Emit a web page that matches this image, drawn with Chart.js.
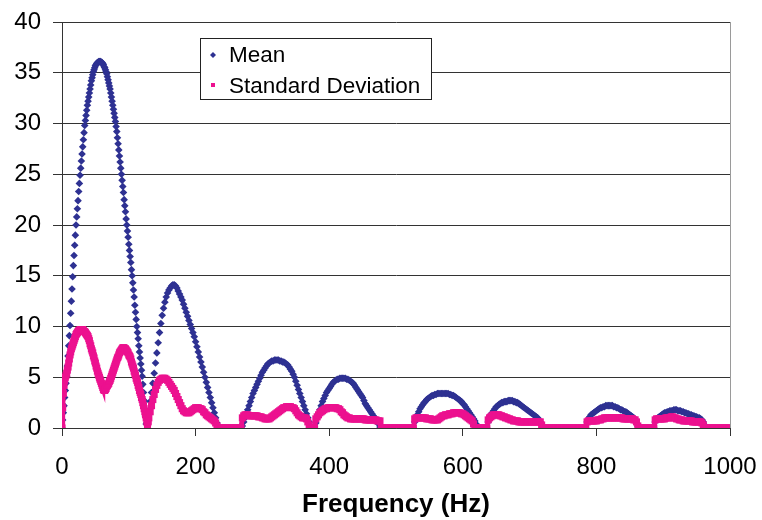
<!DOCTYPE html>
<html>
<head>
<meta charset="utf-8">
<script src="https://cdn.jsdelivr.net/npm/chart.js@4/dist/chart.umd.min.js"></script>
<style>
  html, body { margin: 0; padding: 0; background: #ffffff; }
  #wrap { width: 762px; height: 520px; }
</style>
</head>
<body>
<div id="wrap"><canvas id="c" width="762" height="520"></canvas></div>
<script>
// Frequency bins (Hz): 1 Hz steps up to 130 Hz, 2 Hz steps after that
const freqHz = [
0,1,2,3,4,5,6,7,8,9,
10,11,12,13,14,15,16,17,18,19,
20,21,22,23,24,25,26,27,28,29,
30,31,32,33,34,35,36,37,38,39,
40,41,42,43,44,45,46,47,48,49,
50,51,52,53,54,55,56,57,58,59,
60,61,62,63,64,65,66,67,68,69,
70,71,72,73,74,75,76,77,78,79,
80,81,82,83,84,85,86,87,88,89,
90,91,92,93,94,95,96,97,98,99,
100,101,102,103,104,105,106,107,108,109,
110,111,112,113,114,115,116,117,118,119,
120,121,122,123,124,125,126,127,128,129,
130,
132,134,136,138,140,142,144,146,148,150,
152,154,156,158,160,162,164,166,168,170,
172,174,176,178,180,182,184,186,188,190,
192,194,196,198,200,202,204,206,208,210,
212,214,216,218,220,222,224,226,228,230,
232,234,236,238,240,242,244,246,248,250,
252,254,256,258,260,262,264,266,268,270,
272,274,276,278,280,282,284,286,288,290,
292,294,296,298,300,302,304,306,308,310,
312,314,316,318,320,322,324,326,328,330,
332,334,336,338,340,342,344,346,348,350,
352,354,356,358,360,362,364,366,368,370,
372,374,376,378,380,382,384,386,388,390,
392,394,396,398,400,402,404,406,408,410,
412,414,416,418,420,422,424,426,428,430,
432,434,436,438,440,442,444,446,448,450,
452,454,456,458,460,462,464,466,468,470,
472,474,476,478,480,482,484,486,488,490,
492,494,496,498,500,502,504,506,508,510,
512,514,516,518,520,522,524,526,528,530,
532,534,536,538,540,542,544,546,548,550,
552,554,556,558,560,562,564,566,568,570,
572,574,576,578,580,582,584,586,588,590,
592,594,596,598,600,602,604,606,608,610,
612,614,616,618,620,622,624,626,628,630,
632,634,636,638,640,642,644,646,648,650,
652,654,656,658,660,662,664,666,668,670,
672,674,676,678,680,682,684,686,688,690,
692,694,696,698,700,702,704,706,708,710,
712,714,716,718,720,722,724,726,728,730,
732,734,736,738,740,742,744,746,748,750,
752,754,756,758,760,762,764,766,768,770,
772,774,776,778,780,782,784,786,788,790,
792,794,796,798,800,802,804,806,808,810,
812,814,816,818,820,822,824,826,828,830,
832,834,836,838,840,842,844,846,848,850,
852,854,856,858,860,862,864,866,868,870,
872,874,876,878,880,882,884,886,888,890,
892,894,896,898,900,902,904,906,908,910,
912,914,916,918,920,922,924,926,928,930,
932,934,936,938,940,942,944,946,948,950,
952,954,956,958,960,962,964,966,968,970,
972,974,976,978,980,982,984,986,988,990,
992,994,996,998,1000
];

// Mean spectrum amplitude per bin
const meanAmp = [
0,0.8,1.5,2.2,3.0,3.7,4.4,5.1,6.1,7.1,
8.1,9.1,10.1,11.3,12.5,13.7,14.9,16.0,17.0,18.0,
19.0,20.0,20.8,21.6,22.4,23.3,24.1,24.9,25.6,26.3,
27.0,27.7,28.4,29.1,29.8,30.3,30.8,31.3,31.8,32.2,
32.6,33.0,33.4,33.8,34.2,34.5,34.8,35.1,35.3,35.5,
35.7,35.8,35.9,36.0,36.0,36.1,36.1,36.1,36.1,36.0,
36.0,35.9,35.8,35.6,35.5,35.3,35.1,34.9,34.6,34.3,
34.0,33.7,33.4,33.0,32.6,32.2,31.8,31.4,31.0,30.6,
30.2,29.7,29.2,28.6,28.0,27.4,26.8,26.2,25.6,25.0,
24.4,23.8,23.2,22.5,21.9,21.3,20.6,20.0,19.4,18.8,
18.1,17.5,16.9,16.3,15.6,15.0,14.3,13.6,12.9,12.1,
11.4,10.7,10.0,9.4,8.8,8.1,7.5,6.9,6.3,5.7,
5.1,4.3,3.5,2.7,1.9,1.1,0.4,0.5,0.9,1.3,
1.7,
2.6,3.5,4.4,5.4,6.4,7.4,8.4,9.4,10.3,11.1,
11.8,12.4,12.9,13.3,13.6,13.8,14.0,14.1,14.1,14.0,
13.8,13.5,13.2,12.9,12.6,12.2,11.8,11.4,11.0,10.6,
10.2,9.8,9.4,9.0,8.5,8.0,7.5,7.0,6.5,6.0,
5.5,5.0,4.5,4.0,3.5,3.0,2.5,2.0,1.5,1.0,
0.5,0.1,0,0,0,0,0,0,0,0,
0,0,0,0,0,0,0,0,0,0.2,
0.6,1.0,1.4,1.8,2.2,2.6,3.0,3.4,3.7,4.0,
4.3,4.6,4.9,5.2,5.5,5.7,5.9,6.1,6.3,6.4,
6.5,6.6,6.6,6.7,6.7,6.7,6.7,6.6,6.6,6.5,
6.5,6.4,6.3,6.2,6.0,5.8,5.6,5.3,5.0,4.6,
4.2,3.8,3.4,3.0,2.6,2.2,1.8,1.4,1.0,0.6,
0.2,0,0,0.1,0.5,1.0,1.4,1.8,2.2,2.6,
2.9,3.2,3.5,3.7,3.9,4.1,4.3,4.5,4.6,4.7,
4.8,4.8,4.9,4.9,4.9,4.9,4.9,4.8,4.8,4.7,
4.6,4.5,4.4,4.2,4.0,3.8,3.6,3.4,3.2,3.0,
2.7,2.4,2.2,2.0,1.8,1.6,1.4,1.2,1.0,0.8,
0.6,0.4,0.1,0,0,0,0,0,0,0,
0,0,0,0,0,0,0,0,0,0,
0,0,0,0,0,0,0,0,0.6,1.0,
1.3,1.6,1.9,2.1,2.3,2.5,2.6,2.8,2.9,3.0,
3.1,3.2,3.2,3.3,3.3,3.4,3.4,3.4,3.4,3.4,
3.4,3.4,3.4,3.4,3.3,3.3,3.2,3.2,3.1,3.0,
2.9,2.8,2.7,2.6,2.4,2.3,2.1,1.9,1.7,1.5,
1.3,1.1,0.9,0.7,0.4,0.1,0,0,0,0,
0,0,0,0.6,1.0,1.3,1.5,1.7,1.9,2.1,
2.2,2.3,2.4,2.5,2.5,2.6,2.6,2.6,2.7,2.7,
2.7,2.7,2.6,2.6,2.5,2.5,2.4,2.3,2.2,2.1,
2.0,1.9,1.8,1.7,1.6,1.5,1.4,1.3,1.2,1.1,
1.0,0.8,0.6,0.3,0.1,0,0,0,0,0,
0,0,0,0,0,0,0,0,0,0,
0,0,0,0,0,0,0,0,0,0,
0,0,0,0,0,0,0,0.6,0.9,1.1,
1.3,1.4,1.5,1.6,1.7,1.8,1.9,2.0,2.0,2.1,
2.1,2.2,2.2,2.2,2.2,2.2,2.2,2.1,2.1,2.0,
2.0,1.9,1.8,1.8,1.7,1.6,1.6,1.5,1.4,1.3,
1.2,1.1,1.0,0.8,0.5,0.2,0,0,0,0,
0,0,0,0,0,0,0,0,0.6,0.9,
1.0,1.1,1.2,1.3,1.4,1.5,1.5,1.6,1.6,1.7,
1.7,1.7,1.8,1.8,1.8,1.7,1.7,1.7,1.6,1.6,
1.5,1.5,1.4,1.4,1.3,1.3,1.2,1.2,1.1,1.1,
1.0,1.0,0.9,0.8,0.6,0.3,0,0,0,0,
0,0,0,0,0,0,0,0,0,0,
0,0,0,0,0
];

// Standard deviation per bin
const stdDev = [
0,2.0,3.4,4.2,4.7,5.0,5.2,5.4,5.7,6.0,
6.4,6.8,7.2,7.5,7.8,8.0,8.2,8.4,8.6,8.8,
9.0,9.2,9.3,9.4,9.5,9.6,9.6,9.7,9.7,9.7,
9.7,9.7,9.6,9.5,9.5,9.4,9.3,9.2,9.1,9.0,
8.8,8.6,8.3,8.1,7.8,7.6,7.4,7.1,6.9,6.6,
6.4,6.1,5.9,5.6,5.4,5.2,5.0,4.8,4.6,4.4,
4.2,4.0,3.8,3.7,3.7,3.8,3.9,4.1,4.2,4.3,
4.4,4.6,4.7,4.9,5.1,5.3,5.5,5.7,5.9,6.1,
6.3,6.5,6.7,6.9,7.0,7.2,7.4,7.5,7.6,7.7,
7.8,7.9,7.9,7.9,7.8,7.8,7.7,7.6,7.5,7.4,
7.2,7.1,7.0,6.8,6.5,6.3,6.1,5.9,5.6,5.4,
5.2,4.9,4.7,4.5,4.2,4.0,3.7,3.5,3.3,3.0,
2.8,2.5,2.2,1.9,1.6,1.3,1.0,0.6,0.3,0.6,
1.0,
1.6,2.2,2.8,3.3,3.8,4.2,4.5,4.7,4.8,4.9,
4.9,4.9,4.8,4.7,4.5,4.3,4.1,3.9,3.7,3.4,
3.1,2.8,2.5,2.2,1.9,1.7,1.6,1.5,1.5,1.5,
1.6,1.7,1.8,1.9,2.0,2.0,2.0,1.9,1.9,1.8,
1.6,1.5,1.3,1.2,1.1,1.0,0.9,0.8,0.7,0.5,
0.2,0,0,0,0,0,0,0,0,0,
0,0,0,0,0,0,0,0,0,1.0,
1.2,1.3,1.3,1.3,1.2,1.2,1.2,1.2,1.2,1.2,
1.2,1.1,1.1,1.1,1.0,1.0,0.9,0.9,0.9,0.9,
1.0,1.1,1.2,1.3,1.4,1.5,1.6,1.7,1.8,1.9,
2.0,2.0,2.1,2.1,2.1,2.1,2.0,2.0,1.9,1.7,
1.5,1.3,1.2,1.1,1.0,1.0,1.0,0.9,0.6,0.3,
0,0,0,0,0.9,1.1,1.3,1.5,1.6,1.7,
1.8,1.9,1.9,2.0,2.0,2.0,2.0,2.0,2.0,2.0,
1.9,1.9,1.8,1.6,1.5,1.3,1.2,1.1,1.0,1.0,
0.9,0.9,0.9,0.9,0.9,0.9,0.9,0.9,0.9,0.9,
0.9,0.8,0.8,0.8,0.8,0.8,0.8,0.8,0.8,0.8,
0.7,0.7,0.7,0,0,0,0,0,0,0,
0,0,0,0,0,0,0,0,0,0,
0,0,0,0,0,0,0,0,0.9,1.0,
1.0,1.0,1.0,1.0,1.0,1.0,1.0,0.9,0.9,0.9,
0.9,0.8,0.8,0.8,0.8,0.8,0.9,1.0,1.1,1.2,
1.2,1.3,1.3,1.3,1.4,1.4,1.4,1.5,1.5,1.5,
1.5,1.5,1.5,1.4,1.4,1.3,1.2,1.1,1.0,0.9,
0.8,0.7,0.4,0,0,0,0,0,0,0,
0,0,0,0.8,1.0,1.1,1.2,1.3,1.3,1.3,
1.3,1.3,1.2,1.2,1.1,1.1,1.0,1.0,0.9,0.9,
0.8,0.8,0.7,0.7,0.7,0.7,0.6,0.6,0.6,0.6,
0.6,0.6,0.6,0.6,0.6,0.6,0.6,0.6,0.6,0.6,
0.6,0.6,0.6,0.3,0,0,0,0,0,0,
0,0,0,0,0,0,0,0,0,0,
0,0,0,0,0,0,0,0,0,0,
0,0,0,0,0,0,0,0.6,0.7,0.7,
0.7,0.7,0.7,0.7,0.7,0.8,0.8,0.8,0.9,0.9,
1.0,1.0,1.0,1.0,1.0,1.0,1.0,1.0,1.0,1.0,
1.0,1.0,1.0,1.0,0.9,0.9,0.9,0.9,0.9,0.9,
0.9,0.9,0.8,0.8,0.6,0.2,0,0,0,0,
0,0,0,0,0,0,0,0,0.8,0.9,
0.9,0.9,0.9,0.9,0.9,0.9,1.0,1.0,1.0,1.0,
1.1,1.1,1.0,1.0,0.9,0.9,0.8,0.8,0.8,0.7,
0.7,0.7,0.7,0.7,0.7,0.7,0.6,0.6,0.6,0.6,
0.6,0.6,0.6,0.5,0.3,0,0,0,0,0,
0,0,0,0,0,0,0,0,0,0,
0,0,0,0,0
];

const seriesNames = ['Mean', 'Standard Deviation'];
const xTickValues = [0, 200, 400, 600, 800, 1000];
const yTickValues = [0, 5, 10, 15, 20, 25, 30, 35, 40];
const xTitle = 'Frequency (Hz)';

const MEAN_COLOR = '#2e3192';
const STD_COLOR = '#ec118f';
const FONT = '"Liberation Sans", Arial, sans-serif';

const toPoints = vals => freqHz.map((f, i) => ({ x: f, y: vals[i] }));

// Boxed legend inside the plot and a light frame line on the right edge
const framePlugin = {
  id: 'frame',
  afterDatasetsDraw(chart) {
    const { ctx, chartArea } = chart;
    ctx.save();
    ctx.strokeStyle = '#9a9a9a';
    ctx.lineWidth = 1;
    ctx.beginPath();
    ctx.moveTo(Math.round(chartArea.right) + 0.5, chartArea.top);
    ctx.lineTo(Math.round(chartArea.right) + 0.5, chartArea.bottom);
    ctx.stroke();
    ctx.restore();
  },
  afterDraw(chart) {
    const { ctx } = chart;
    const bx = 200.5, by = 38.5, bw = 231, bh = 61;
    ctx.save();
    ctx.fillStyle = '#ffffff';
    ctx.fillRect(bx, by, bw, bh);
    ctx.strokeStyle = '#222222';
    ctx.lineWidth = 1;
    ctx.strokeRect(bx, by, bw, bh);

    // markers
    ctx.fillStyle = MEAN_COLOR;
    ctx.beginPath();
    ctx.moveTo(213, 52); ctx.lineTo(216, 55); ctx.lineTo(213, 58); ctx.lineTo(210, 55);
    ctx.closePath();
    ctx.fill();
    ctx.fillStyle = STD_COLOR;
    ctx.fillRect(211, 83, 4, 4);

    ctx.fillStyle = '#000000';
    ctx.font = '22.5px ' + FONT;
    ctx.textBaseline = 'alphabetic';
    ctx.textAlign = 'left';
    ctx.fillText(seriesNames[0], 229, 62);
    ctx.fillText(seriesNames[1], 229, 93);
    ctx.restore();
  }
};

new Chart(document.getElementById('c'), {
  type: 'scatter',
  data: {
    datasets: [
      {
        label: seriesNames[1],
        data: toPoints(stdDev),
        order: 0,
        showLine: true,
        borderColor: STD_COLOR,
        backgroundColor: STD_COLOR,
        borderWidth: 5,
        pointStyle: 'rect',
        pointRadius: 5,
        pointBorderWidth: 0,
        pointHoverRadius: 5
      },
      {
        label: seriesNames[0],
        data: toPoints(meanAmp),
        order: 1,
        showLine: false,
        borderColor: MEAN_COLOR,
        backgroundColor: MEAN_COLOR,
        pointStyle: 'rectRot',
        pointRadius: 3.8,
        pointBorderWidth: 0,
        pointHoverRadius: 3.8
      }
    ]
  },
  options: {
    responsive: false,
    animation: false,
    events: [],
    layout: { padding: { top: 22, right: 32, left: 0, bottom: 0 } },
    plugins: {
      legend: { display: false },
      tooltip: { enabled: false }
    },
    scales: {
      x: {
        type: 'linear',
        min: 0,
        max: 1000,
        afterBuildTicks(scale) { scale.ticks = xTickValues.map(v => ({ value: v })); },
        afterFit(scale) {
          scale.height = 92;
          scale.paddingLeft = 0;
          scale.paddingRight = 0;
        },
        ticks: {
          color: '#000000',
          font: { family: FONT, size: 24 },
          padding: 17,
          maxRotation: 0,
          callback: v => String(v)
        },
        grid: {
          drawOnChartArea: false,
          drawTicks: true,
          tickLength: 8,
          color: '#333333'
        },
        border: { display: true, color: '#333333', width: 1 },
        title: {
          display: true,
          text: xTitle,
          color: '#000000',
          font: { family: FONT, size: 26, weight: 'bold' },
          padding: { top: 0, bottom: 0 }
        }
      },
      y: {
        min: 0,
        max: 40,
        afterBuildTicks(scale) { scale.ticks = yTickValues.map(v => ({ value: v })); },
        afterFit(scale) {
          scale.width = 62;
          scale.paddingTop = 0;
          scale.paddingBottom = 0;
        },
        ticks: {
          color: '#000000',
          font: { family: FONT, size: 24 },
          padding: 12,
          callback: v => String(v)
        },
        grid: {
          color: '#333333',
          lineWidth: 1,
          drawTicks: true,
          tickLength: 9
        },
        border: { display: true, color: '#333333', width: 1 }
      }
    }
  },
  plugins: [framePlugin]
});
</script>
</body>
</html>
